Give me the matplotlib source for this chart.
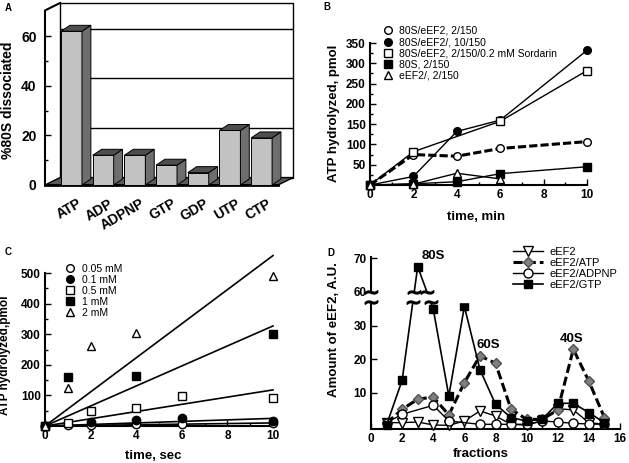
import numpy as np
import matplotlib
matplotlib.use('Agg')
import matplotlib.pyplot as plt
from matplotlib.patches import Polygon
from matplotlib.lines import Line2D

plt.rcParams['font.family'] = ['Liberation Sans', 'DejaVu Sans']

W, H = 629, 463

# ---- data: panel A ----
nucleotides = ['ATP', 'ADP', 'ADPNP', 'GTP', 'GDP', 'UTP', 'CTP']
dissociated = [62, 12, 12, 8, 5, 22, 19]

# ---- data: panel B (time, min) ----
b_t_circ_open = [0, 2, 4, 6, 10]
b_circ_open = [0, 75, 71, 90, 107]
b_t_circ_fill = [0, 2, 4, 6, 10]
b_circ_fill = [0, 21, 132, 160, 332]
b_t_sq_open = [0, 2, 6, 10]
b_sq_open = [0, 82, 157, 282]
b_t_sq_fill = [0, 2, 4, 6, 10]
b_sq_fill = [0, 3, 8, 28, 45]
b_t_tri = [0, 2, 4, 6]
b_tri = [0, 2, 29, 15]
b_labels = ['80S/eEF2, 2/150', '80S/eEF2/, 10/150', '80S/eEF2, 2/150/0.2 mM Sordarin',
            '80S, 2/150', 'eEF2/, 2/150']

# ---- data: panel C (time, sec) ----
c_t_005 = [0, 1, 2, 4, 6, 10]
c_005 = [0, 2, 4, 6, 8, 10]
c_t_01 = [0, 2, 4, 6, 10]
c_01 = [0, 14, 20, 25, 17]
c_t_05 = [0, 1, 2, 4, 6, 10]
c_05 = [0, 11, 49, 60, 98, 91]
c_t_1 = [0, 1, 4, 10]
c_1 = [0, 161, 165, 300]
c_t_2 = [0, 1, 2, 4, 10]
c_2 = [0, 123, 260, 305, 491]
c_fit_end = [10, 25, 118, 327, 557]   # fitted lines, value at t = 10 s
c_labels = ['0.05 mM', '0.1 mM', '0.5 mM', '1 mM', '2 mM']

# ---- data: panel D (fractions) ----
fractions = list(range(1, 16))
d_eef2 = [1.0, 1.0, 1.2, 0.3, 0.2, 1.5, 4.5, 3.0, 0.5, 0.3, 1.5, 5.2, 4.8, 1.0, 0.5]
d_atp = [0.8, 5.0, 8.0, 8.7, 3.3, 13.0, 21.0, 18.8, 5.0, 2.0, 2.0, 4.8, 23.0, 13.4, 2.5]
d_frac_adpnp = [1, 2, 4, 5, 7, 8, 9, 10, 11, 12, 13, 14, 15]
d_adpnp = [1.0, 3.5, 6.2, 1.5, 0.5, 0.5, 0.5, 0.5, 1.5, 1.2, 0.8, 0.6, 0.5]
d_gtp = [0.3, 13.7, 67.5, 35.0, 9.0, 35.8, 16.9, 6.5, 2.5, 1.5, 2.0, 6.8, 6.8, 4.0, 1.0]
d_labels = ['eEF2', 'eEF2/ATP', 'eEF2/ADPNP', 'eEF2/GTP']


def box(left, top, right, bottom):
    return [left / W, 1 - bottom / H, (right - left) / W, (bottom - top) / H]


fig = plt.figure(figsize=(W / 100, H / 100), dpi=100)

labfont = dict(fontsize=9.5, fontweight='bold')

# ================= A: pseudo 3D bars =================
axA = fig.add_axes(box(45, 3, 293, 185))
axA.set_xlim(-0.837, 6.99)
axA.set_ylim(0, 73.4)
for s in axA.spines.values():
    s.set_visible(False)
wdx, wdy = 0.474, 3.0
bdx, bdy = 0.28, 2.4
bw = 0.66
xl, xr = -0.837, 6.52
axA.add_patch(Polygon([(xl + wdx, wdy), (xr + wdx, wdy), (xr + wdx, 73.4), (xl + wdx, 73.4)],
                      closed=True, fc='white', ec='black', lw=1, zorder=1, clip_on=False))
axA.hlines([20 + wdy, 40 + wdy, 60 + wdy], xl + wdx, xr + wdx, color='black', lw=1, zorder=1)
axA.add_patch(Polygon([(xl, 0), (xr, 0), (xr + wdx, wdy), (xl + wdx, wdy)],
                      closed=True, fc='#5a5a5a', ec='black', lw=1, zorder=2, clip_on=False))
axA.plot([xl, xl, xl + wdx], [0, 70.4, 73.4], color='black', lw=1.5, zorder=2, clip_on=False)
axA.plot([xl, xr], [0, 0], color='black', lw=2, zorder=2, clip_on=False)
xs = np.arange(len(dissociated))
axA.bar(xs, dissociated, width=bw, color='#c2c2c2', edgecolor='black', lw=0.7, zorder=3)
for x, v in zip(xs, dissociated):
    x0, x1 = x - bw / 2, x + bw / 2
    axA.add_patch(Polygon([(x1, 0), (x1 + bdx, bdy), (x1 + bdx, v + bdy), (x1, v)],
                          closed=True, fc='#6e6e6e', ec='black', lw=0.7, zorder=3))
    axA.add_patch(Polygon([(x0, v), (x1, v), (x1 + bdx, v + bdy), (x0 + bdx, v + bdy)],
                          closed=True, fc='#4e4e4e', ec='black', lw=0.7, zorder=3))
    axA.text(x + 0.17, -4.6, nucleotides[x], rotation=30, ha='right', va='top',
             rotation_mode='anchor', fontsize=10, fontweight='bold')
axA.set_xticks([])
axA.set_yticks([0, 20, 40, 60])
axA.set_yticklabels(['0', '20', '40', '60'], fontsize=10, fontweight='bold')
axA.set_yticks([10, 30, 50], minor=True)
axA.tick_params(axis='y', which='major', direction='in', length=4, width=1, pad=6)
axA.tick_params(axis='y', which='minor', direction='in', length=2.5, width=1)
axA.set_ylabel('%80S dissociated', fontsize=10, fontweight='bold')
axA.yaxis.set_label_coords(-0.121, 0.467)


def style_axes(ax):
    for side in ['top', 'right']:
        ax.spines[side].set_visible(False)
    for side in ['left', 'bottom']:
        ax.spines[side].set_linewidth(1.5)
    ax.tick_params(which='major', direction='in', length=4, width=1, pad=3)
    ax.tick_params(which='minor', direction='in', length=2.5, width=1)


# ================= B =================
axB = fig.add_axes(box(370, 43, 587, 185))
axB.set_xlim(0, 10)
axB.set_ylim(0, 350)
style_axes(axB)
mk = dict(ms=5.5, mec='black', clip_on=False, zorder=4)
axB.plot(b_t_circ_open, b_circ_open, color='black', lw=2.2, dashes=(2.7, 1.0), marker='o', mfc='white', **mk)
axB.plot(b_t_circ_fill, b_circ_fill, color='black', lw=1, marker='o', mfc='black', **mk)
axB.plot(b_t_sq_open, b_sq_open, color='black', lw=1, marker='s', mfc='white', **mk)
axB.plot(b_t_sq_fill, b_sq_fill, color='black', lw=1, marker='s', mfc='black', **mk)
axB.plot(b_t_tri, b_tri, color='black', lw=1, marker='^', mfc='white', **mk)
axB.set_xticks([0, 2, 4, 6, 8, 10])
axB.set_xticks([1, 3, 5, 7, 9], minor=True)
axB.set_yticks([50, 100, 150, 200, 250, 300, 350])
axB.set_yticks([25, 75, 125, 175, 225, 275, 325], minor=True)
for t in axB.get_xticklabels() + axB.get_yticklabels():
    t.set_fontsize(8.5)
    t.set_fontweight('bold')
axB.set_xlabel('time, min', **labfont)
axB.set_ylabel('ATP hydrolyzed, pmol', **labfont)
axB.xaxis.set_label_coords(0.49, -0.183)
axB.yaxis.set_label_coords(-0.138, 0.507)
hB = [Line2D([], [], ls='none', marker=m, mfc=f, mec='black', ms=5.5)
      for m, f in [('o', 'white'), ('o', 'black'), ('s', 'white'), ('s', 'black'), ('^', 'white')]]
axB.legend(hB, b_labels, loc='upper left', bbox_to_anchor=(0.059, 1.12), frameon=False,
           fontsize=7.5, handlelength=1.0, handletextpad=0.6, labelspacing=0.12,
           borderpad=0, borderaxespad=0)

# ================= C =================
axC = fig.add_axes(box(45, 273, 273, 426))
axC.set_xlim(0, 10)
axC.set_ylim(0, 500)
style_axes(axC)
for v in c_fit_end:
    axC.plot([0, 10], [0, v], color='black', lw=1.2, clip_on=False, zorder=3)
mkc = dict(ls='none', ms=6, mec='black', clip_on=False, zorder=4)
axC.plot(c_t_005, c_005, marker='o', mfc='white', **mkc)
axC.plot(c_t_01, c_01, marker='o', mfc='black', **mkc)
axC.plot(c_t_05, c_05, marker='s', mfc='white', **mkc)
axC.plot(c_t_1, c_1, marker='s', mfc='black', **mkc)
axC.plot(c_t_2, c_2, marker='^', mfc='white', **mkc)
axC.set_xticks([0, 2, 4, 6, 8, 10])
axC.set_xticks([1, 3, 5, 7, 9], minor=True)
axC.set_yticks([100, 200, 300, 400, 500])
axC.set_yticks([50, 150, 250, 350, 450], minor=True)
for t in axC.get_xticklabels() + axC.get_yticklabels():
    t.set_fontsize(8.5)
    t.set_fontweight('bold')
axC.set_xlabel('time, sec', **labfont)
axC.set_ylabel('ATP hydrolyzed,pmol', fontsize=8.5, fontweight='bold')
axC.xaxis.set_label_coords(0.474, -0.157)
axC.yaxis.set_label_coords(-0.148, 0.464)
hC = [Line2D([], [], ls='none', marker=m, mfc=f, mec='black', ms=5.5)
      for m, f in [('o', 'white'), ('o', 'black'), ('s', 'white'), ('s', 'black'), ('^', 'white')]]
axC.legend(hC, c_labels, loc='upper left', bbox_to_anchor=(0.087, 1.059), frameon=False,
           fontsize=7.5, handlelength=1.0, handletextpad=0.6, labelspacing=0.1,
           borderpad=0, borderaxespad=0)

# ================= D (broken y axis) =================
lo_top, hi_bot, gap_t = 37.0, 60.0, 3.2


def fwd(y):
    y = np.asarray(y, dtype=float)
    return np.where(y <= lo_top, y,
                    np.where(y >= hi_bot, y - (hi_bot - lo_top - gap_t),
                             lo_top + (y - lo_top) * gap_t / (hi_bot - lo_top)))


def inv(t):
    t = np.asarray(t, dtype=float)
    return np.where(t <= lo_top, t,
                    np.where(t >= lo_top + gap_t, t + (hi_bot - lo_top - gap_t),
                             lo_top + (t - lo_top) * (hi_bot - lo_top) / gap_t))


axD = fig.add_axes(box(371, 256.7, 620, 429))
axD.set_yscale('function', functions=(fwd, inv))
axD.set_xlim(0, 16)
axD.set_ylim(-0.9, 70.5)
for side in ['top', 'right', 'left']:
    axD.spines[side].set_visible(False)
axD.spines['bottom'].set_linewidth(1.5)
axD.plot([0, 0], [-0.9, lo_top], color='black', lw=1.5, clip_on=False, zorder=6)
axD.plot([0, 0], [hi_bot, 70.5], color='black', lw=1.5, clip_on=False, zorder=6)

axD.plot(fractions, d_eef2, color='black', lw=1, marker='v', ms=7, mfc='white', mec='black', zorder=3, clip_on=False)
axD.plot(fractions, d_atp, color='black', lw=2.2, dashes=(3.0, 1.3), marker='D', ms=5.5,
         mfc='#808080', mec='#505050', zorder=3, clip_on=False)
axD.plot(d_frac_adpnp, d_adpnp, color='black', lw=1, marker='o', ms=6.5, mfc='white', mec='black', zorder=3, clip_on=False)
axD.plot(fractions, d_gtp, color='black', lw=1.2, marker='s', ms=5.5, mfc='black', mec='black', zorder=3, clip_on=False)
axD.axhspan(lo_top, hi_bot, color='white', zorder=4)

# break marks on the axis and on the lines crossing the gap
brk_x, brk_y = [0, 0], [lo_top, hi_bot]
t_g = fwd(d_gtp)
for i in range(len(fractions) - 1):
    for tc, yc in [(lo_top, lo_top), (lo_top + gap_t, hi_bot)]:
        if (t_g[i] - tc) * (t_g[i + 1] - tc) < 0:
            brk_x.append(fractions[i] + (tc - t_g[i]) / (t_g[i + 1] - t_g[i]) * (fractions[i + 1] - fractions[i]))
            brk_y.append(yc)
axD.plot(brk_x, brk_y, ls='none', marker=r'$\sim$', ms=9, color='black', zorder=7, clip_on=False)

axD.set_xticks(range(0, 17, 2))
axD.set_xticks(range(1, 16, 2), minor=True)
axD.set_yticks([10, 20, 30, 60, 70])
axD.tick_params(which='major', direction='in', length=4, width=1, pad=3)
axD.tick_params(which='minor', direction='in', length=2.5, width=1)
axD.yaxis.set_minor_locator(matplotlib.ticker.NullLocator())
axD.set_yticklabels(['10', '20', '30', '60', '70'])
for t in axD.get_xticklabels() + axD.get_yticklabels():
    t.set_fontsize(8.5)
    t.set_fontweight('bold')
axD.set_xlabel('fractions', **labfont)
axD.set_ylabel('Amount of eEF2, A.U.', **labfont)
axD.xaxis.set_label_coords(0.44, -0.11)
axD.yaxis.set_label_coords(-0.124, 0.575)
axD.text(3.26, 70.7, '80S', ha='left', va='center', fontsize=9.5, fontweight='bold', zorder=8)
axD.text(7.54, 24.4, '60S', ha='center', va='center', fontsize=9.5, fontweight='bold')
axD.text(12.9, 26.1, '40S', ha='center', va='center', fontsize=9.5, fontweight='bold')
hD = [Line2D([], [], color='black', lw=1, marker='v', ms=7, mfc='white', mec='black'),
      Line2D([], [], color='black', lw=2.2, dashes=(3.0, 1.3), marker='D', ms=5.5, mfc='#808080', mec='#505050'),
      Line2D([], [], color='black', lw=1, marker='o', ms=6.5, mfc='white', mec='black'),
      Line2D([], [], color='black', lw=1.2, marker='s', ms=5.5, mfc='black', mec='black')]
axD.legend(hD, d_labels, loc='upper left', bbox_to_anchor=(0.570, 1.058), frameon=False,
           fontsize=8, handlelength=2.7, handletextpad=0.6, labelspacing=0.1,
           borderpad=0, borderaxespad=0)

# panel letters
for letter, (px, py) in zip('ABCD', [(5, 8), (323, 7), (5, 252), (327, 253)]):
    fig.text(px / W, 1 - py / H, letter, fontsize=7, fontweight='bold', va='center')

fig.savefig('out.png', dpi=100)
